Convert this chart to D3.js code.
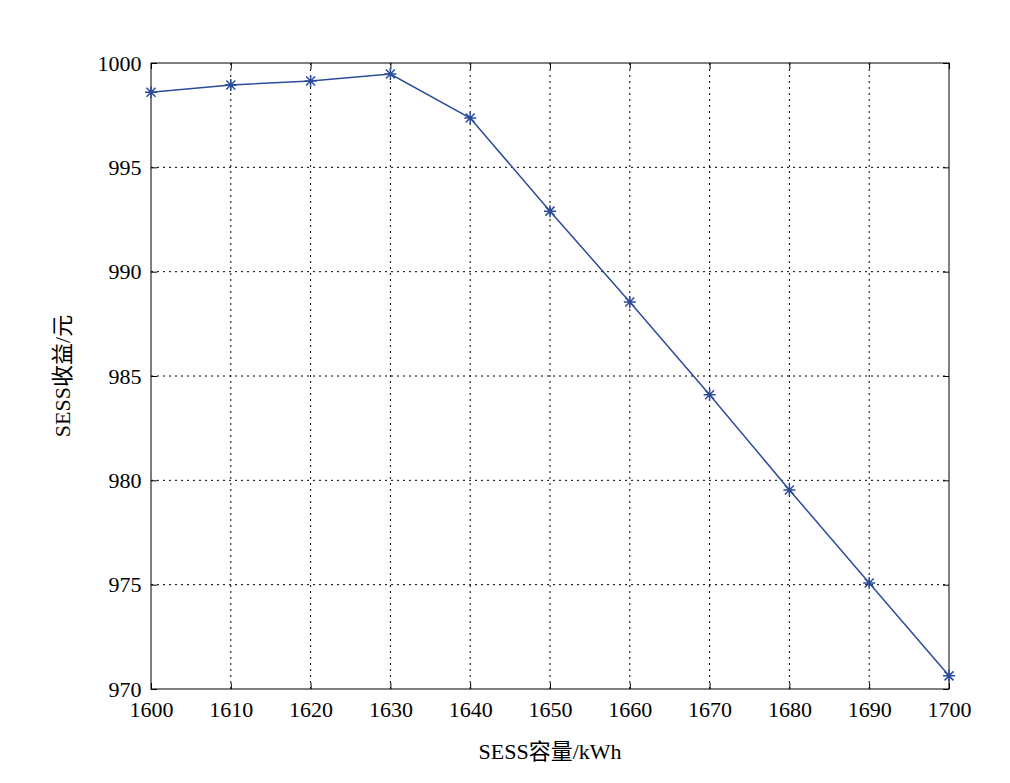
<!DOCTYPE html><html><head><meta charset="utf-8"><script src="https://cdn.jsdelivr.net/npm/d3@7"></script>
<style>body{margin:0;background:#fff}text{font-family:"Liberation Serif","Noto Sans CJK SC",serif;}</style></head><body>
<svg id="c" width="1010" height="783"></svg>
<script>
const capacity=[1600,1610,1620,1630,1640,1650,1660,1670,1680,1690,1700];
const revenue=[998.6,998.95,999.14,999.47,997.36,992.9,988.55,984.1,979.54,975.08,970.63];
const xTicks=[1600,1610,1620,1630,1640,1650,1660,1670,1680,1690,1700];
const yTicks=[970,975,980,985,990,995,1000];
const svg=d3.select("#c");
const L=151,R=949,T=63,B=689;
const x=d3.scaleLinear().domain([1600,1700]).range([L,R]);
const y=d3.scaleLinear().domain([970,1000]).range([B,T]);
const g=svg.append("g");
g.selectAll(".vg").data(xTicks.slice(1,-1)).join("line").attr("x1",d=>x(d)).attr("x2",d=>x(d)).attr("y1",T).attr("y2",B).attr("stroke","#000").attr("stroke-width",1).attr("stroke-dasharray","2,4");
g.selectAll(".hg").data(yTicks.slice(1,-1)).join("line").attr("y1",d=>y(d)).attr("y2",d=>y(d)).attr("x1",L).attr("x2",R).attr("stroke","#000").attr("stroke-width",1).attr("stroke-dasharray","2,4");
svg.append("rect").attr("x",L).attr("y",T).attr("width",R-L).attr("height",B-T).attr("fill","none").attr("stroke","#000");
const xa=svg.append("g").attr("transform",`translate(0,${B})`).call(d3.axisBottom(x).tickValues(xTicks).tickSize(-6).tickFormat(d3.format("d")));
const xa2=svg.append("g").attr("transform",`translate(0,${T})`).call(d3.axisTop(x).tickValues(xTicks).tickSize(-6).tickFormat(""));
const ya=svg.append("g").attr("transform",`translate(${L},0)`).call(d3.axisLeft(y).tickValues(yTicks).tickSize(-6).tickFormat(d3.format("d")));
const ya2=svg.append("g").attr("transform",`translate(${R},0)`).call(d3.axisRight(y).tickValues(yTicks).tickSize(-6).tickFormat(""));
[xa,xa2,ya,ya2].forEach(a=>{a.select(".domain").remove();a.selectAll("text").attr("font-size",22).attr("fill","#000");});
xa.selectAll("text").attr("dy","1.15em");
ya.selectAll("text").attr("dx","-0.3em");
const data=capacity.map((c,i)=>[c,revenue[i]]);
svg.append("path").datum(data).attr("d",d3.line().x(d=>x(d[0])).y(d=>y(d[1]))).attr("fill","none").attr("stroke","#2b4c9b").attr("stroke-width",1.5);
svg.selectAll(".m").data(data).join("path").attr("transform",d=>`translate(${x(d[0])},${y(d[1])})`)
 .attr("d","M-6,0H6M0,-6V6M-4.5,-4.5L4.5,4.5M-4.5,4.5L4.5,-4.5").attr("stroke","#2b4c9b").attr("stroke-width",1.5);
svg.append("text").attr("x",550).attr("y",759).attr("text-anchor","middle").attr("font-size",22).text("SESS容量/kWh");
svg.append("text").attr("transform","translate(70,376) rotate(-90)").attr("text-anchor","middle").attr("font-size",22).text("SESS收益/元");
</script></body></html>
